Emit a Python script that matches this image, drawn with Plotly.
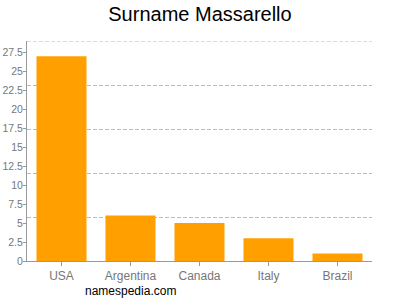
import plotly.graph_objects as go

countries = ["USA", "Argentina", "Canada", "Italy", "Brazil"]
counts = [27, 6, 5, 3, 1]
y_ticks = [0, 2.5, 5, 7.5, 10, 12.5, 15, 17.5, 20, 22.5, 25, 27.5]
y_max = 29
grid_vals = [y_max * i / 5 for i in range(1, 5)]
y_range = [0, y_max]

fig = go.Figure()
fig.add_trace(go.Bar(x=countries, y=counts, marker_color="#FFA000", marker_line_width=0))
fig.add_trace(go.Scatter(x=[None], y=[None], yaxis="y2", showlegend=False))
fig.add_shape(type="line", xref="paper", x0=0, x1=1, yref="y", y0=y_max, y1=y_max,
              line=dict(color="#BBBBBB", width=1, dash="4px,2px"), layer="below")
fig.update_layout(
    width=400, height=300,
    margin=dict(l=27, r=28, t=41, b=39),
    paper_bgcolor="white", plot_bgcolor="white",
    bargap=0.275,
    showlegend=False,
    font=dict(family="Liberation Sans, Arial, sans-serif", color="#777777", size=11),
    title=dict(text="Surname Massarello", x=0.5, xanchor="center", y=0.955, yanchor="middle",
               font=dict(size=20, color="#000000")),
    xaxis=dict(showline=True, linecolor="#999999", linewidth=1, ticks="outside",
               ticklen=4, tickcolor="#999999", showgrid=False, automargin=False,
               tickfont=dict(size=12, color="#777777")),
    yaxis=dict(range=y_range, tickvals=y_ticks, ticktext=[f"{v:g}" for v in y_ticks],
               showline=True, linecolor="#999999", linewidth=1, ticks="outside",
               ticklen=3, tickcolor="#999999", showgrid=False, zeroline=False,
               automargin=False, ticklabelstandoff=-2,
               tickfont=dict(size=10.5, color="#777777")),
    yaxis2=dict(range=y_range, overlaying="y", tickvals=grid_vals, showticklabels=False,
                showgrid=True, gridcolor="#BBBBBB", griddash="4px,2px", gridwidth=1,
                zeroline=False, showline=False, ticks="", automargin=False),
    annotations=[dict(text="namespedia.com", x=0.3, xref="paper", xanchor="center",
                      y=-0.135, yref="paper", yanchor="middle", showarrow=False,
                      font=dict(size=12, color="#000000"))],
)
fig.write_html("out.html")
